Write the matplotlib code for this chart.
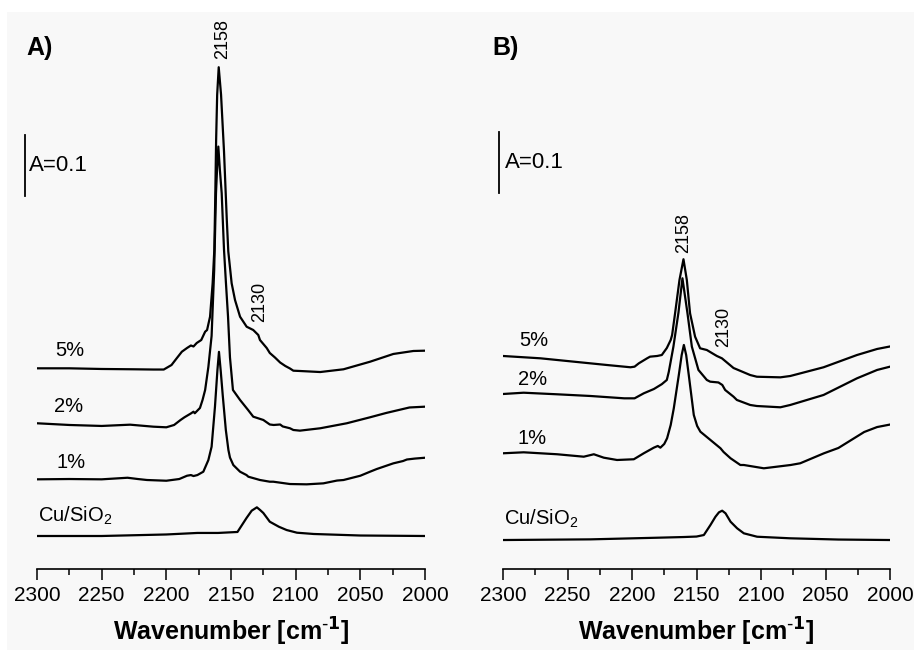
import matplotlib

matplotlib.use("Agg")
import matplotlib.pyplot as plt
from matplotlib.patches import Rectangle
from matplotlib.ticker import MultipleLocator

plt.rcParams["font.family"] = ["Liberation Sans", "DejaVu Sans"]
plt.rcParams["mathtext.default"] = "regular"

# ---- data: absorbance relative to each curve's value at 2300 cm-1 ----
sample_labels = ["Cu/SiO$_2$", "1%", "2%", "5%"]
peak_labels = ["2158", "2130"]
scale_bar = 0.1

# panel A
a_cu_wn = [2300, 2250, 2200, 2176, 2160, 2145, 2138, 2134, 2130, 2127.5, 2125, 2120, 2113,
           2107, 2099, 2086, 2050, 2000]
a_cu_abs = [0, 0, 0.0025, 0.005, 0.005, 0.0066, 0.0295, 0.0415, 0.047, 0.0426, 0.0377,
            0.0234, 0.0152, 0.0098, 0.0054, 0.0033, 0.0008, 0]

a_1_wn = [2300, 2275, 2250, 2240, 2230, 2222, 2215, 2200, 2190, 2184, 2181, 2179, 2176,
          2171.4, 2167.5, 2165, 2162.4, 2160.5, 2159.3, 2158, 2156.4, 2154, 2152, 2150.8,
          2148.2, 2143, 2138, 2136.6, 2127.6, 2120, 2117.3, 2104.4, 2091.5, 2078.6, 2068,
          2063, 2050, 2042.5, 2037.3, 2024.5, 2017, 2014, 2008, 2000]
a_1_abs = [0, 0.0005, 0, 0.0013, 0.0026, 0.0005, -0.0011, -0.0023, 0.0005, 0.0059, 0.007,
           0.0054, 0.007, 0.0125, 0.0316, 0.0534, 0.119, 0.179, 0.209, 0.179, 0.138, 0.081,
           0.048, 0.0357, 0.0234, 0.0125, 0.007, 0.0043, -0.0011, -0.0039, -0.0039, -0.0077,
           -0.0082, -0.0066, -0.002, -0.0011, 0.0059, 0.0125, 0.0169, 0.0262, 0.03, 0.0325,
           0.034, 0.0354]

a_2_wn = [2300, 2275, 2250, 2228, 2210, 2200, 2194, 2189, 2186, 2181, 2179, 2178, 2174,
          2172, 2170, 2167.5, 2165, 2163, 2161.6, 2160.8, 2159.8, 2158.6, 2157.2, 2155.4,
          2153.9, 2152.3, 2150.8, 2148.5, 2143, 2136.8, 2132.8, 2125, 2120, 2117, 2112,
          2110, 2104.4, 2101.8, 2096.7, 2081, 2060.5, 2042.5, 2030, 2016.8, 2012, 2000]
a_2_abs = [0, -0.0028, -0.0044, -0.0023, -0.0056, -0.0066, -0.0028, 0.0054, 0.0098, 0.0161,
           0.019, 0.0164, 0.0251, 0.0382, 0.0546, 0.0923, 0.1432, 0.2514, 0.3777, 0.4154,
           0.4536, 0.4154, 0.3772, 0.2842, 0.2296, 0.1748, 0.108, 0.0546, 0.0382, 0.0218,
           0.0108, 0.0054, -0.002, -0.0028, -0.002, -0.0052, -0.0082, -0.011, -0.0121,
           -0.0082, 0, 0.0098, 0.0169, 0.0235, 0.0259, 0.0272]

a_5_wn = [2300, 2275, 2250, 2225, 2210, 2202, 2196, 2192, 2188, 2184, 2181, 2179, 2176.5,
          2173, 2170, 2168.5, 2166.2, 2164.2, 2162.9, 2162.2, 2161.5, 2160.7, 2159.5, 2157.7,
          2155.4, 2153.3, 2152.1, 2149.5, 2146.9, 2143, 2137.9, 2132.8, 2128.9, 2127.6,
          2122.4, 2120, 2116, 2112, 2108, 2104.4, 2101.8, 2096.7, 2081, 2063, 2042.5, 2024.5,
          2009, 2000]
a_5_abs = [0, 0, -0.0011, -0.0016, -0.002, -0.002, 0.0054, 0.0164, 0.0272, 0.0333, 0.0374,
           0.0358, 0.0415, 0.0464, 0.06, 0.0628, 0.0846, 0.1394, 0.194, 0.276, 0.3744, 0.4482,
           0.4936, 0.4488, 0.3553, 0.2457, 0.1917, 0.1394, 0.112, 0.0846, 0.0682, 0.0628,
           0.0546, 0.0464, 0.0333, 0.0251, 0.0177, 0.0095, 0.0038, -0.0003, -0.0039, -0.0044,
           -0.0061, -0.0016, 0.0108, 0.0235, 0.0284, 0.0289]

# panel B
b_cu_wn = [2300, 2232, 2180, 2160, 2150, 2144.3, 2139.2, 2135.3, 2132.6, 2130.1, 2127.5,
           2123.6, 2118.5, 2113.3, 2103, 2077, 2040, 2000]
b_cu_abs = [0, 0.0011, 0.0038, 0.0049, 0.0057, 0.0082, 0.0246, 0.0382, 0.0454, 0.0481,
            0.0438, 0.03, 0.0192, 0.011, 0.0054, 0.0028, 0.0008, 0]

b_1_wn = [2300, 2284, 2258, 2237.4, 2229.6, 2221.9, 2211.6, 2198.6, 2190.9, 2183.1, 2180,
          2178, 2175, 2172.8, 2170, 2167.6, 2163.7, 2161.5, 2159.8, 2158, 2156, 2152.1,
          2149.5, 2147, 2139.2, 2131.4, 2129, 2123.6, 2116, 2113.3, 2097.8, 2077, 2069.6,
          2051.2, 2040, 2030, 2020, 2010, 2000]
b_1_abs = [0, 0.0016, -0.0016, -0.0056, -0.0016, -0.0072, -0.011, -0.0098, 0, 0.0092, 0.012,
           0.0092, 0.0153, 0.0246, 0.0464, 0.0738, 0.1284, 0.161, 0.1776, 0.161, 0.1284,
           0.0628, 0.0448, 0.0354, 0.0218, 0.0082, 0.0021, -0.0082, -0.0192, -0.0192,
           -0.0246, -0.0192, -0.0164, 0, 0.0087, 0.0218, 0.0349, 0.043, 0.0471]

b_2_wn = [2300, 2284, 2258, 2232, 2206, 2198, 2190.9, 2183, 2176.9, 2173, 2171.5, 2167.9,
          2164, 2160.9, 2157, 2153.6, 2148.5, 2142, 2139.4, 2133, 2130, 2127.8, 2121.3,
          2118.7, 2108.4, 2103.2, 2085, 2077.3, 2051.5, 2025.6, 2010, 2000]
b_2_abs = [0, 0.0021, -0.0005, -0.0033, -0.0071, -0.0071, 0.0011, 0.0082, 0.0161, 0.023,
           0.0361, 0.0776, 0.1332, 0.1897, 0.1323, 0.0776, 0.0394, 0.023, 0.0202, 0.0189,
           0.0148, 0.0066, -0.0044, -0.0098, -0.018, -0.0197, -0.0218, -0.018, -0.0016,
           0.0257, 0.0394, 0.0448]

b_5_wn = [2300, 2271, 2245.2, 2219.3, 2201.2, 2198, 2194.7, 2188.3, 2186, 2180.5, 2176.9,
          2173, 2170, 2168.9, 2166.6, 2163.2, 2160.1, 2157.5, 2155, 2151.1, 2147.2, 2142,
          2135.5, 2134.2, 2130.3, 2121.3, 2108.4, 2103.2, 2085, 2077.3, 2051.5, 2025.6,
          2010, 2000]
b_5_abs = [0, -0.0038, -0.0093, -0.0148, -0.0185, -0.0175, -0.012, -0.0038, -0.0011, 0,
           0.0016, 0.0131, 0.0262, 0.0344, 0.07, 0.1246, 0.1586, 0.1246, 0.07, 0.0317,
           0.0126, 0.0098, 0.0016, 0, -0.0038, -0.0197, -0.0312, -0.034, -0.035, -0.0328,
           -0.0185, 0.0016, 0.0115, 0.0156]

# vertical stacking offsets (Cu/SiO2, 1%, 2%, 5%)
a_offsets = [0.0541, 0.147, 0.2389, 0.329]
b_offsets = [0.0475, 0.1897, 0.2869, 0.3492]

# ---- layout ----
W, H = 914, 650
AX_BOTTOM_PX, AX_TOP_PX = 569, 12
PX_PER_A = 610.0

panels = [
    dict(tag="A)", tag_x=26, left=37, width=388,
         curves=[(a_cu_wn, a_cu_abs), (a_1_wn, a_1_abs), (a_2_wn, a_2_abs), (a_5_wn, a_5_abs)],
         offsets=a_offsets,
         label_pos=[(2299.5, 0.0775), (2285.3, 0.1754), (2286.6, 0.266), (2286.1, 0.359)],
         peak_pos=[(2156.5, 0.869), (2127.6, 0.4377)],
         bar_x=2309.3, bar_y=0.6115, bar_text_x=2306.2),
    dict(tag="B)", tag_x=492.7, left=503, width=387,
         curves=[(b_cu_wn, b_cu_abs), (b_1_wn, b_1_abs), (b_2_wn, b_2_abs), (b_5_wn, b_5_abs)],
         offsets=b_offsets,
         label_pos=[(2299.6, 0.0721), (2289.1, 0.2143), (2288.4, 0.311), (2287.6, 0.3754)],
         peak_pos=[(2159.6, 0.551), (2129.3, 0.397)],
         bar_x=2303.3, bar_y=0.6169, bar_text_x=2298.7),
]

fig = plt.figure(figsize=(W / 100, H / 100), dpi=100, facecolor="white")
fig.patches.append(Rectangle((7 / W, 0), 1, 1 - 12 / H, transform=fig.transFigure,
                             facecolor="#f8f8f8", edgecolor="none", zorder=-10))

for p in panels:
    ax = fig.add_axes([p["left"] / W, (H - AX_BOTTOM_PX) / H, p["width"] / W,
                       (AX_BOTTOM_PX - AX_TOP_PX) / H])
    ax.set_facecolor("none")
    ax.set_xlim(2300, 2000)
    ax.set_ylim(0, (AX_BOTTOM_PX - AX_TOP_PX) / PX_PER_A)

    for (wn, ab), off, lab, (lx, ly) in zip(p["curves"], p["offsets"], sample_labels,
                                            p["label_pos"]):
        ax.plot(wn, [v + off for v in ab], color="black", lw=1.6, solid_joinstyle="round")
        if "$" in lab:
            ax.text(lx, ly, lab, fontsize=14.5, ha="left", va="baseline")
        else:
            ax.text(lx, ly, lab, fontsize=14.5, ha="left", va="center")

    for txt, (px, py) in zip(peak_labels, p["peak_pos"]):
        ax.text(px, py, txt, fontsize=13, rotation=90, ha="center", va="center")

    # A=0.1 scale bar
    ax.plot([p["bar_x"], p["bar_x"]], [p["bar_y"], p["bar_y"] + scale_bar], color="black",
            lw=1.3, clip_on=False)
    ax.text(p["bar_text_x"], p["bar_y"] + scale_bar / 2, "A=0.1", fontsize=16,
            ha="left", va="center")

    fig.text(p["tag_x"] / W, 1 - 48 / H, p["tag"], fontsize=18, fontweight="bold",
             ha="left", va="center")

    for s in ["top", "right", "left"]:
        ax.spines[s].set_visible(False)
    ax.spines["bottom"].set_linewidth(1.2)
    ax.set_yticks([])
    ax.xaxis.set_major_locator(MultipleLocator(50))
    ax.xaxis.set_minor_locator(MultipleLocator(25))
    ax.tick_params(axis="x", which="major", direction="out", length=8, width=1.1,
                   labelsize=15, pad=4)
    ax.tick_params(axis="x", which="minor", direction="out", length=4, width=1.1)
    ax.set_xlabel("Wavenumber [cm$^{\\mathbf{\\text{-}1}}$]", fontsize=18,
                  fontweight="bold", labelpad=8)

fig.savefig("out.png", dpi=100)
